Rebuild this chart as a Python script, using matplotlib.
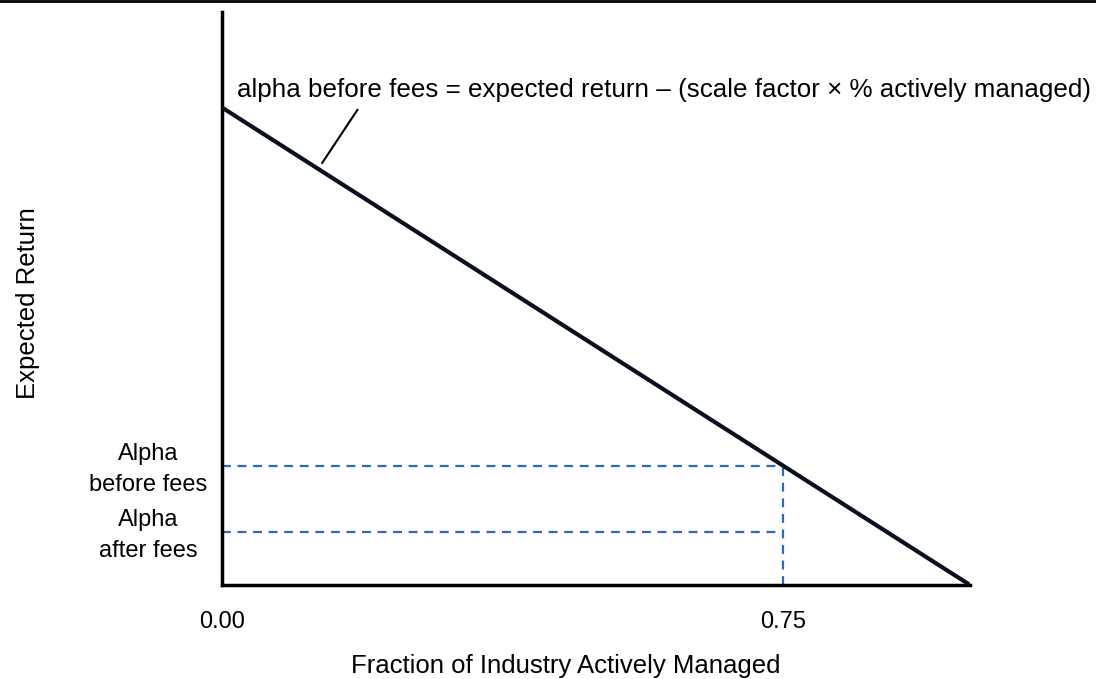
import matplotlib
matplotlib.use("Agg")
import matplotlib.pyplot as plt
from matplotlib.lines import Line2D
import matplotlib.transforms as mtransforms

plt.rcParams['font.family'] = ['Liberation Sans', 'DejaVu Sans']

line_x = [0.0, 1.0]
line_y = [1.0, 0.0]
x_point = 0.75
alpha_before = 0.25
alpha_after = 0.11
x_ticks = [0.0, 0.75]
x_tick_labels = ["0.00", "0.75"]
y_labels = ["Alpha\nbefore fees", "Alpha\nafter fees"]

W, H = 1096, 679
fig = plt.figure(figsize=(W/100, H/100), dpi=100)
ax = fig.add_axes([222/W, 1-585/H, (970-222)/W, (585-12)/H])

ax.plot(line_x, line_y, color='#0b1020', lw=3, solid_capstyle='butt', zorder=3)
dash = dict(color='#2a6db5', lw=1.6, ls=(0, (4, 3)), zorder=2)
ax.plot([0, x_point], [alpha_before, alpha_before], **dash)
ax.plot([0, x_point], [alpha_after, alpha_after], **dash)
ax.plot([x_point, x_point], [0, alpha_before], **dash)

ax.set_xlim(0, 1.0)
ax.set_ylim(0, 1.2)
for s in ['top', 'right']:
    ax.spines[s].set_visible(False)
ax.spines['left'].set_linewidth(2.5)
ax.spines['bottom'].set_linewidth(2.5)

ax.set_xticks(x_ticks)
ax.set_xticklabels(x_tick_labels, fontsize=17)
ax.tick_params(axis='x', length=0, pad=18.5)
ax.set_yticks([])

# y-side labels: each line placed by baseline, anchored to the dashed level
trans = mtransforms.blended_transform_factory(fig.transFigure, ax.transData)
for lvl, lab in zip([alpha_before, alpha_after], y_labels):
    lines = lab.split("\n")
    base = mtransforms.offset_copy(trans, fig=fig, x=0, y=(6 - 24) * 0.72, units='points')
    for i, ln in enumerate(lines):
        t = mtransforms.offset_copy(trans, fig=fig, x=0, y=-(24 - 31*0 + 31*i - 30) * 0.72 - 0, units='points')
        ax.text(148/W, lvl, ln, ha='center', va='baseline', fontsize=17,
                transform=mtransforms.offset_copy(trans, fig=fig, x=0,
                                                  y=(6 - 31*i) * 0.72, units='points'),
                clip_on=False)

fig.text(566/W, 1-673/H, "Fraction of Industry Actively Managed", ha='center', va='baseline', fontsize=18.5)
fig.text(28/W, 1-303/H, "Expected Return", rotation=90, ha='center', va='center', fontsize=18.5)

ax.text(0.02, 1.037, "alpha before fees = expected return \u2013 (scale factor \u00d7 % actively managed)",
        fontsize=18.7, ha='left', va='center', clip_on=False)
ax.plot([0.134, 0.181], [0.884, 0.995], color='black', lw=1.5, clip_on=False)

fig.add_artist(Line2D([0, 1], [1-1/H, 1-1/H], color='black', lw=2))

fig.savefig("out.png", dpi=100)
